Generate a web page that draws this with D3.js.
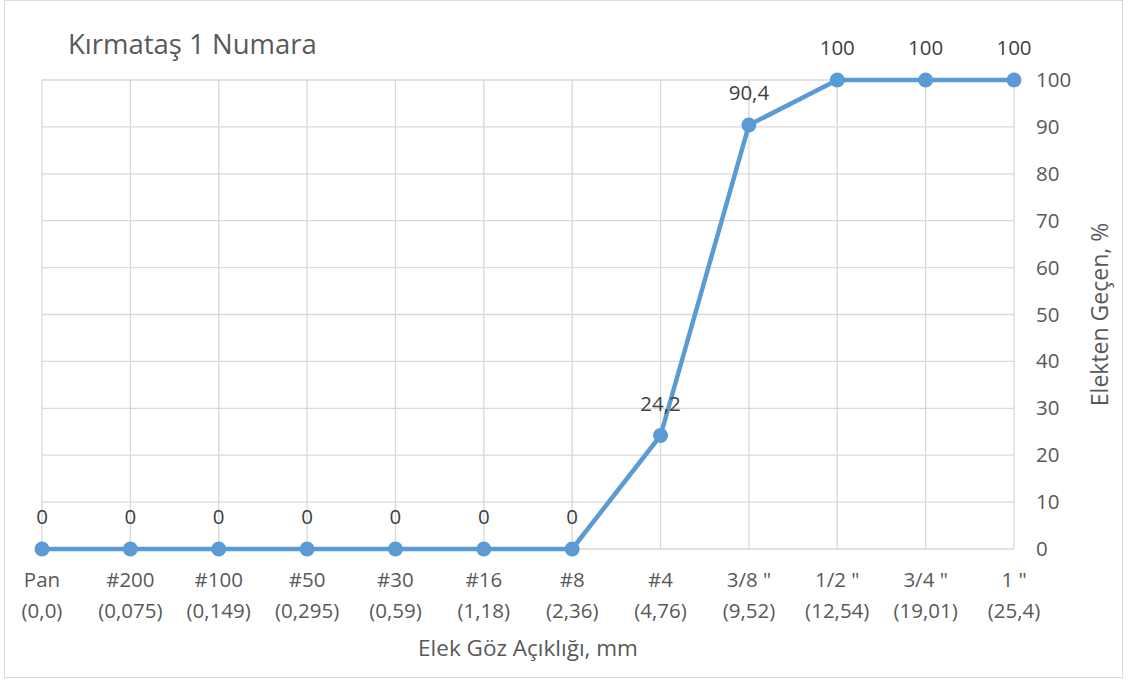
<!DOCTYPE html>
<html>
<head>
<meta charset="utf-8">
<script src="https://cdn.jsdelivr.net/npm/d3@7"></script>
<style>
  body { margin: 0; background: #fff; }
  text { font-family: "Open Sans", "Liberation Sans", sans-serif; }
</style>
</head>
<body>
<div class="panel"></div>
<script>
const width = 1132;
const height = 684;
const margins = {top: 80, right: 118, bottom: 135, left: 42};

const sieves = ["Pan", "#200", "#100", "#50", "#30", "#16", "#8", "#4", "3/8 \"", "1/2 \"", "3/4 \"", "1 \""];
const openings = ["(0,0)", "(0,075)", "(0,149)", "(0,295)", "(0,59)", "(1,18)", "(2,36)", "(4,76)", "(9,52)", "(12,54)", "(19,01)", "(25,4)"];
const passing = [0, 0, 0, 0, 0, 0, 0, 24.2, 90.4, 100, 100, 100];
const yTicks = [0, 10, 20, 30, 40, 50, 60, 70, 80, 90, 100];

const fs = 20.5;

const svg = d3.select(".panel")
  .append("svg")
  .attr("width", width)
  .attr("height", height);

svg.append("rect")
  .attr("x", 4.5).attr("y", 0.5)
  .attr("width", 1118).attr("height", 677)
  .attr("fill", "#fff")
  .attr("stroke", "#d9d9d9");

const xScale = d3.scalePoint()
  .domain(d3.range(sieves.length))
  .range([margins.left, width - margins.right]);

const yScale = d3.scaleLinear()
  .domain([0, 100])
  .range([height - margins.bottom, margins.top]);

// grid
const grid = svg.append("g");
grid.selectAll(".hgrid")
  .data(yTicks)
  .enter()
  .append("line")
  .attr("x1", margins.left).attr("x2", width - margins.right)
  .attr("y1", d => yScale(d)).attr("y2", d => yScale(d))
  .attr("stroke", "#d9d9d9").attr("stroke-width", 1.3);
grid.selectAll(".vgrid")
  .data(d3.range(sieves.length))
  .enter()
  .append("line")
  .attr("x1", d => xScale(d)).attr("x2", d => xScale(d))
  .attr("y1", yScale(0)).attr("y2", yScale(100))
  .attr("stroke", "#d9d9d9").attr("stroke-width", 1.3);

// right axis
const yAxis = d3.axisRight(yScale).tickValues(yTicks).tickSize(0).tickPadding(22);
const ya = svg.append("g")
  .attr("transform", `translate(${width - margins.right}, 0)`)
  .call(yAxis);
ya.select(".domain").remove();
ya.attr("font-size", null).attr("font-family", null);
ya.selectAll("text")
  .attr("font-size", fs)
  .attr("fill", "#595959");

// x labels
const xl = svg.append("g");
xl.selectAll(".sieve")
  .data(sieves)
  .enter()
  .append("text")
  .attr("x", (d, i) => xScale(i))
  .attr("y", 587)
  .attr("text-anchor", "middle")
  .attr("font-size", fs)
  .attr("fill", "#595959")
  .text(d => d);
xl.selectAll(".opening")
  .data(openings)
  .enter()
  .append("text")
  .attr("x", (d, i) => xScale(i))
  .attr("y", 618)
  .attr("text-anchor", "middle")
  .attr("font-size", fs)
  .attr("fill", "#595959")
  .text(d => d);

// line
const line = d3.line()
  .x((d, i) => xScale(i))
  .y(d => yScale(d));

svg.append("path")
  .datum(passing)
  .attr("d", line)
  .attr("fill", "none")
  .attr("stroke", "#5b9bd5")
  .attr("stroke-width", 4.5)
  .attr("stroke-linejoin", "round");

svg.selectAll(".pt")
  .data(passing)
  .enter()
  .append("circle")
  .attr("cx", (d, i) => xScale(i))
  .attr("cy", d => yScale(d))
  .attr("r", 7.5)
  .attr("fill", "#5b9bd5");

svg.selectAll(".lbl")
  .data(passing)
  .enter()
  .append("text")
  .attr("x", (d, i) => xScale(i))
  .attr("y", d => yScale(d) - 25)
  .attr("text-anchor", "middle")
  .attr("font-size", fs)
  .attr("fill", "#404040")
  .text(d => String(d).replace(".", ","));

// titles
svg.append("text")
  .attr("x", 68).attr("y", 54)
  .attr("font-size", 27.5)
  .attr("fill", "#595959")
  .text("Kırmataş 1 Numara");

svg.append("text")
  .attr("x", 528).attr("y", 656)
  .attr("text-anchor", "middle")
  .attr("font-size", 22.5)
  .attr("fill", "#595959")
  .text("Elek Göz Açıklığı, mm");

svg.append("text")
  .attr("transform", `translate(1108, ${(yScale(0) + yScale(100)) / 2}) rotate(-90)`)
  .attr("text-anchor", "middle")
  .attr("font-size", 23)
  .attr("fill", "#595959")
  .text("Elekten Geçen, %");
</script>
</body>
</html>
